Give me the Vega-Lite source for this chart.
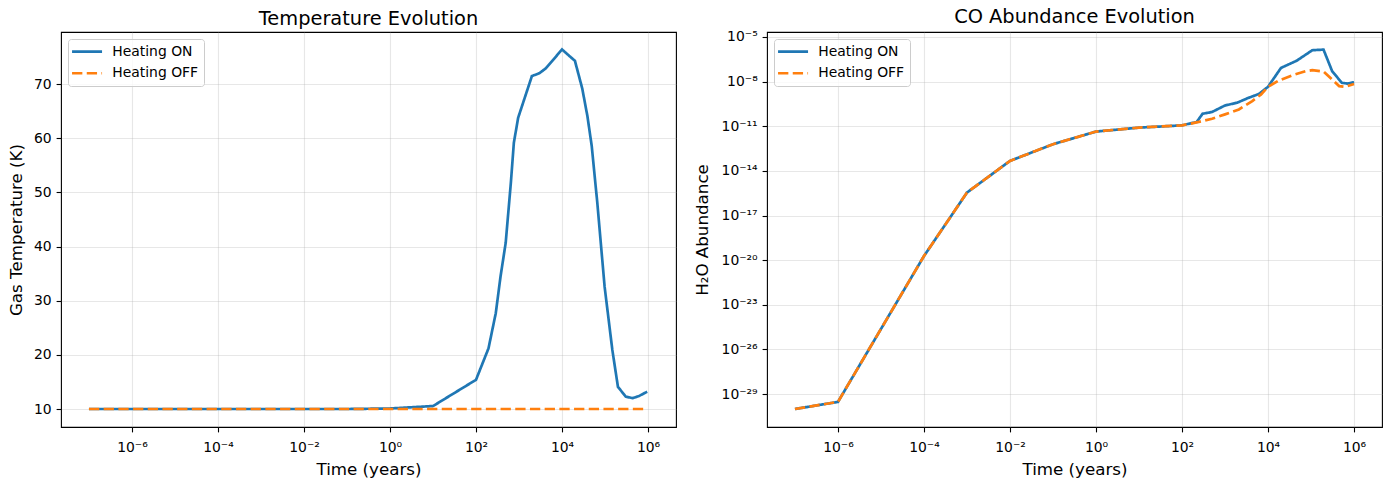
{
  "$schema": "https://vega.github.io/schema/vega-lite/v6.json",
  "autosize": {"type": "none"},
  "padding": {"left": 61, "top": 32, "right": 1328, "bottom": 457},
  "bounds": "flush",
  "spacing": 91,
  "config": {
    "font": "DejaVu Sans",
    "view": {"stroke": "black", "strokeWidth": 1.1},
    "axis": {
      "domain": false, "grid": true, "gridColor": "#b0b0b0", "gridOpacity": 0.3, "gridWidth": 1.1,
      "tickColor": "black", "tickSize": 4.9, "tickWidth": 1.1,
      "labelFont": "DejaVu Sans", "labelFontSize": 13.9, "labelColor": "black", "labelPadding": 4.9,
      "labelOverlap": false, "labelFlush": false,
      "titleFont": "DejaVu Sans", "titleFontSize": 16.7, "titleFontWeight": "normal", "titleColor": "black"
    },
    "axisX": {"labelPadding": 9},
    "legend": {
      "title": null, "orient": "top-left", "offset": 7, "symbolType": "M-3,0H3", "symbolSize": 100, "symbolStrokeWidth": 2.7,
      "symbolOffset": 6.5, "labelOffset": 18.3, "padding": 5.6, "rowPadding": 6.7,
      "labelFontSize": 13.9, "labelFont": "DejaVu Sans", "labelColor": "black",
      "fillColor": "rgba(255,255,255,0.8)", "strokeColor": "#cccccc", "cornerRadius": 3
    },
    "title": {"font": "DejaVu Sans", "fontSize": 19.4, "fontWeight": "normal", "color": "black", "offset": 3, "anchor": "middle"}
  },
  "datasets": {
    "temp": [
      {"series": "Heating ON", "t": 1e-7, "v": 10},
      {"series": "Heating ON", "t": 1e-6, "v": 10},
      {"series": "Heating ON", "t": 1e-5, "v": 10},
      {"series": "Heating ON", "t": 1e-4, "v": 10},
      {"series": "Heating ON", "t": 1e-3, "v": 10},
      {"series": "Heating ON", "t": 1e-2, "v": 10},
      {"series": "Heating ON", "t": 1e-1, "v": 10},
      {"series": "Heating ON", "t": 1, "v": 10.1},
      {"series": "Heating ON", "t": 10, "v": 10.55},
      {"series": "Heating ON", "t": 100, "v": 15.4},
      {"series": "Heating ON", "t": 195, "v": 21.2},
      {"series": "Heating ON", "t": 288, "v": 27.7},
      {"series": "Heating ON", "t": 372, "v": 34.5},
      {"series": "Heating ON", "t": 490, "v": 40.7},
      {"series": "Heating ON", "t": 646, "v": 51.8},
      {"series": "Heating ON", "t": 759, "v": 59.2},
      {"series": "Heating ON", "t": 955, "v": 63.8},
      {"series": "Heating ON", "t": 1995, "v": 71.5},
      {"series": "Heating ON", "t": 2951, "v": 72.0},
      {"series": "Heating ON", "t": 4169, "v": 72.9},
      {"series": "Heating ON", "t": 10000, "v": 76.4},
      {"series": "Heating ON", "t": 19953, "v": 74.3},
      {"series": "Heating ON", "t": 29512, "v": 69.2},
      {"series": "Heating ON", "t": 38905, "v": 64.1},
      {"series": "Heating ON", "t": 48978, "v": 58.6},
      {"series": "Heating ON", "t": 66069, "v": 48.1},
      {"series": "Heating ON", "t": 97724, "v": 32.6},
      {"series": "Heating ON", "t": 147911, "v": 20.9},
      {"series": "Heating ON", "t": 199526, "v": 14.1},
      {"series": "Heating ON", "t": 301995, "v": 12.3},
      {"series": "Heating ON", "t": 436516, "v": 12.0},
      {"series": "Heating ON", "t": 616595, "v": 12.4},
      {"series": "Heating ON", "t": 954993, "v": 13.2},
      {"series": "Heating OFF", "t": 1e-7, "v": 10},
      {"series": "Heating OFF", "t": 1e-6, "v": 10},
      {"series": "Heating OFF", "t": 1e-4, "v": 10},
      {"series": "Heating OFF", "t": 1e-2, "v": 10},
      {"series": "Heating OFF", "t": 1, "v": 10},
      {"series": "Heating OFF", "t": 100, "v": 10},
      {"series": "Heating OFF", "t": 10000, "v": 10},
      {"series": "Heating OFF", "t": 954993, "v": 10}
    ],
    "abund": [
      {"series": "Heating ON", "t": 1e-7, "v": 1e-30},
      {"series": "Heating ON", "t": 1e-6, "v": 3e-30},
      {"series": "Heating ON", "t": 1e-4, "v": 1.9e-20},
      {"series": "Heating ON", "t": 1e-3, "v": 3.5e-16},
      {"series": "Heating ON", "t": 1e-2, "v": 4.7e-14},
      {"series": "Heating ON", "t": 1e-1, "v": 6.2e-13},
      {"series": "Heating ON", "t": 1, "v": 4.4e-12},
      {"series": "Heating ON", "t": 10, "v": 8.1e-12},
      {"series": "Heating ON", "t": 100, "v": 1.15e-11},
      {"series": "Heating ON", "t": 220, "v": 1.95e-11},
      {"series": "Heating ON", "t": 300, "v": 6.9e-11},
      {"series": "Heating ON", "t": 500, "v": 9.1e-11},
      {"series": "Heating ON", "t": 1000, "v": 2.5e-10},
      {"series": "Heating ON", "t": 1900, "v": 3.8e-10},
      {"series": "Heating ON", "t": 3400, "v": 7.8e-10},
      {"series": "Heating ON", "t": 6200, "v": 1.5e-9},
      {"series": "Heating ON", "t": 10000, "v": 4.5e-9},
      {"series": "Heating ON", "t": 20000, "v": 8.3e-8},
      {"series": "Heating ON", "t": 47000, "v": 2.6e-7},
      {"series": "Heating ON", "t": 107000, "v": 1.29e-6},
      {"series": "Heating ON", "t": 195000, "v": 1.41e-6},
      {"series": "Heating ON", "t": 310000, "v": 5e-8},
      {"series": "Heating ON", "t": 520000, "v": 8.3e-9},
      {"series": "Heating ON", "t": 700000, "v": 7.4e-9},
      {"series": "Heating ON", "t": 1000000, "v": 9.1e-9},
      {"series": "Heating OFF", "t": 1e-7, "v": 1e-30},
      {"series": "Heating OFF", "t": 1e-6, "v": 3e-30},
      {"series": "Heating OFF", "t": 1e-4, "v": 1.9e-20},
      {"series": "Heating OFF", "t": 1e-3, "v": 3.5e-16},
      {"series": "Heating OFF", "t": 1e-2, "v": 4.7e-14},
      {"series": "Heating OFF", "t": 1e-1, "v": 6.2e-13},
      {"series": "Heating OFF", "t": 1, "v": 4.4e-12},
      {"series": "Heating OFF", "t": 10, "v": 8.1e-12},
      {"series": "Heating OFF", "t": 100, "v": 1.15e-11},
      {"series": "Heating OFF", "t": 245, "v": 1.95e-11},
      {"series": "Heating OFF", "t": 500, "v": 3.2e-11},
      {"series": "Heating OFF", "t": 1000, "v": 6.3e-11},
      {"series": "Heating OFF", "t": 2100, "v": 1.35e-10},
      {"series": "Heating OFF", "t": 4300, "v": 4.9e-10},
      {"series": "Heating OFF", "t": 6900, "v": 1.38e-9},
      {"series": "Heating OFF", "t": 10000, "v": 4.5e-9},
      {"series": "Heating OFF", "t": 18000, "v": 1.2e-8},
      {"series": "Heating OFF", "t": 36000, "v": 2.6e-8},
      {"series": "Heating OFF", "t": 74000, "v": 5e-8},
      {"series": "Heating OFF", "t": 107000, "v": 5.9e-8},
      {"series": "Heating OFF", "t": 195000, "v": 4.8e-8},
      {"series": "Heating OFF", "t": 310000, "v": 1.38e-8},
      {"series": "Heating OFF", "t": 450000, "v": 5e-9},
      {"series": "Heating OFF", "t": 630000, "v": 4.5e-9},
      {"series": "Heating OFF", "t": 1000000, "v": 7e-9}
    ]
  },
  "hconcat": [
    {
      "width": 615, "height": 395,
      "title": "Temperature Evolution",
      "data": {"name": "temp"},
      "encoding": {
        "x": {"field": "t", "type": "quantitative",
          "scale": {"type": "log", "domain": [2.2387e-8, 4.4668e6], "nice": false},
          "axis": {"title": "Time (years)", "titlePadding": 7, "values": [1e-6, 1e-4, 1e-2, 1, 100, 10000, 1000000],
            "labelExpr": "['10⁻⁶','10⁻⁴','10⁻²','10⁰','10²','10⁴','10⁶'][round((round(log(datum.value)/LN10)+6)/2)]"}},
        "y": {"field": "v", "type": "quantitative",
          "scale": {"domain": [6.68, 79.63], "nice": false, "zero": false},
          "axis": {"title": "Gas Temperature (K)", "titlePadding": 8, "values": [10, 20, 30, 40, 50, 60, 70]}},
        "color": {"field": "series", "type": "nominal",
          "scale": {"domain": ["Heating ON", "Heating OFF"], "range": ["#1f77b4", "#ff7f0e"]},
          "legend": {"title": null}},
        "strokeDash": {"field": "series", "type": "nominal",
          "scale": {"domain": ["Heating ON", "Heating OFF"], "range": [[1, 0], [10.3, 4.4]]},
          "legend": {"title": null}}
      },
      "layer": [
        {"transform": [{"filter": "datum.series === 'Heating ON'"}], "mark": {"type": "line", "strokeWidth": 2.7, "clip": true}},
        {"transform": [{"filter": "datum.series === 'Heating OFF'"}], "mark": {"type": "line", "strokeWidth": 2.7, "clip": true}}
      ]
    },
    {
      "width": 615, "height": 395,
      "title": "CO Abundance Evolution",
      "data": {"name": "abund"},
      "encoding": {
        "x": {"field": "t", "type": "quantitative",
          "scale": {"type": "log", "domain": [2.2387e-8, 4.4668e6], "nice": false},
          "axis": {"title": "Time (years)", "titlePadding": 7, "values": [1e-6, 1e-4, 1e-2, 1, 100, 10000, 1000000],
            "labelExpr": "['10⁻⁶','10⁻⁴','10⁻²','10⁰','10²','10⁴','10⁶'][round((round(log(datum.value)/LN10)+6)/2)]"}},
        "y": {"field": "v", "type": "quantitative",
          "scale": {"type": "log", "domain": [6.17e-32, 2.16e-5], "nice": false},
          "axis": {"title": "H₂O Abundance", "titlePadding": 10, "values": [1e-29, 1e-26, 1e-23, 1e-20, 1e-17, 1e-14, 1e-11, 1e-8, 1e-5],
            "labelExpr": "['10⁻²⁹','10⁻²⁶','10⁻²³','10⁻²⁰','10⁻¹⁷','10⁻¹⁴','10⁻¹¹','10⁻⁸','10⁻⁵'][round((round(log(datum.value)/LN10)+29)/3)]"}},
        "color": {"field": "series", "type": "nominal",
          "scale": {"domain": ["Heating ON", "Heating OFF"], "range": ["#1f77b4", "#ff7f0e"]},
          "legend": {"title": null}},
        "strokeDash": {"field": "series", "type": "nominal",
          "scale": {"domain": ["Heating ON", "Heating OFF"], "range": [[1, 0], [10.3, 4.4]]},
          "legend": {"title": null}}
      },
      "layer": [
        {"transform": [{"filter": "datum.series === 'Heating ON'"}], "mark": {"type": "line", "strokeWidth": 2.7, "clip": true}},
        {"transform": [{"filter": "datum.series === 'Heating OFF'"}], "mark": {"type": "line", "strokeWidth": 2.7, "clip": true}}
      ]
    }
  ],
  "resolve": {
    "scale": {"color": "independent", "strokeDash": "independent", "x": "independent", "y": "independent"},
    "legend": {"color": "independent", "strokeDash": "independent"}
  }
}
